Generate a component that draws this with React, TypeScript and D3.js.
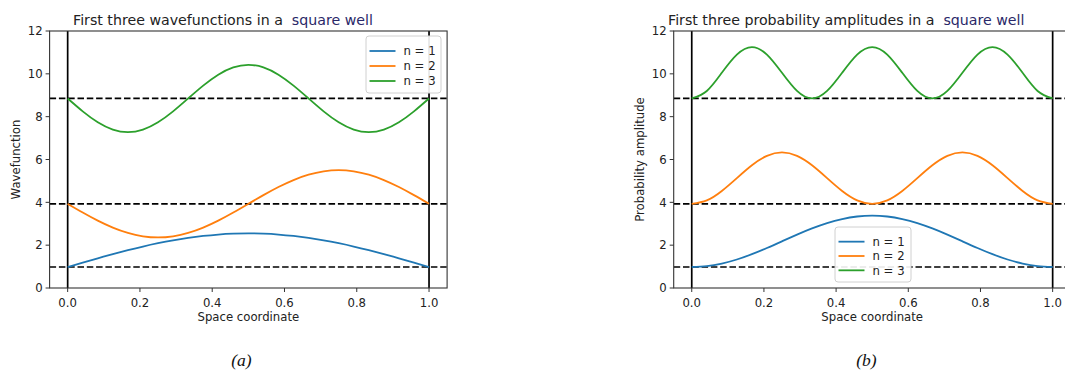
import React from "react";
import * as d3 from "d3";

// Sample positions across the well (0 … 1)
const xs = [
  0, 0.0417, 0.0833, 0.125, 0.1667, 0.2083, 0.25, 0.2917, 0.3333, 0.375, 0.4167, 0.4583, 0.5,
  0.5417, 0.5833, 0.625, 0.6667, 0.7083, 0.75, 0.7917, 0.8333, 0.875, 0.9167, 0.9583, 1,
];

// Energy levels (dashed baselines)
const levels = [0.98, 3.93, 8.85];

const seriesNames = ["n = 1", "n = 2", "n = 3"];
const colors = ["#1f77b4", "#ff7f0e", "#2ca02c"];

// Wavefunctions, offset by their energy level
const psi1 = [0.98, 1.185, 1.386, 1.581, 1.765, 1.936, 2.09, 2.226, 2.34, 2.431, 2.497, 2.536, 2.55,
  2.536, 2.497, 2.431, 2.34, 2.226, 2.09, 1.936, 1.765, 1.581, 1.386, 1.185, 0.98];
const psi2 = [3.93, 3.524, 3.145, 2.82, 2.57, 2.414, 2.36, 2.414, 2.57, 2.82, 3.145, 3.524, 3.93,
  4.336, 4.715, 5.04, 5.29, 5.446, 5.5, 5.446, 5.29, 5.04, 4.715, 4.336, 3.93];
const psi3 = [8.85, 8.249, 7.74, 7.399, 7.28, 7.399, 7.74, 8.249, 8.85, 9.451, 9.96, 10.301, 10.42,
  10.301, 9.96, 9.451, 8.85, 8.249, 7.74, 7.399, 7.28, 7.399, 7.74, 8.249, 8.85];

// Probability amplitudes, offset by their energy level
const prob1 = [0.98, 1.021, 1.141, 1.331, 1.58, 1.869, 2.18, 2.491, 2.78, 3.029, 3.219, 3.339, 3.38,
  3.339, 3.219, 3.029, 2.78, 2.491, 2.18, 1.869, 1.58, 1.331, 1.141, 1.021, 0.98];
const prob2 = [3.93, 4.091, 4.53, 5.13, 5.73, 6.169, 6.33, 6.169, 5.73, 5.13, 4.53, 4.091, 3.93,
  4.091, 4.53, 5.13, 5.73, 6.169, 6.33, 6.169, 5.73, 5.13, 4.53, 4.091, 3.93];
const prob3 = [8.85, 9.201, 10.05, 10.899, 11.25, 10.899, 10.05, 9.201, 8.85, 9.201, 10.05, 10.899, 11.25,
  10.899, 10.05, 9.201, 8.85, 9.201, 10.05, 10.899, 11.25, 10.899, 10.05, 9.201, 8.85];

const xTicks = [0, 0.2, 0.4, 0.6, 0.8, 1.0];
const yTicks = [0, 2, 4, 6, 8, 10, 12];

const FONT = "'DejaVu Sans', sans-serif";
const TICK_FS = 11.7;
const TOP = 31;
const BOTTOM = 288;

type PanelProps = {
  id: string;
  left: number;
  right: number;
  title: string;
  titleX: number;
  ylabel: string;
  ylabelX: number;
  series: number[][];
  legend: { x: number; y: number; w: number; h: number };
  caption: string;
  captionX: number;
};

function Panel(p: PanelProps) {
  const x = d3.scaleLinear().domain([-0.05, 1.05]).range([p.left, p.right]);
  const y = d3.scaleLinear().domain([0, 12]).range([BOTTOM, TOP]);
  const line = d3
    .line<number>()
    .x((_, i) => x(xs[i]))
    .y((d) => y(d))
    .curve(d3.curveNatural);
  const clipId = `clip-${p.id}`;
  const rowH = (p.legend.h - 12) / 3;

  return (
    <g>
      <defs>
        <clipPath id={clipId}>
          <rect x={p.left} y={TOP} width={p.right - p.left} height={BOTTOM - TOP} />
        </clipPath>
      </defs>
      <g clipPath={`url(#${clipId})`}>
        {levels.map((lv) => (
          <line
            key={`lv-${lv}`}
            x1={p.left}
            x2={p.right}
            y1={y(lv)}
            y2={y(lv)}
            stroke="#000"
            strokeWidth={1.7}
            strokeDasharray="6.5,2.8"
          />
        ))}
        {[0, 1].map((v) => (
          <line
            key={`wall-${v}`}
            x1={x(v)}
            x2={x(v)}
            y1={TOP}
            y2={BOTTOM}
            stroke="#000"
            strokeWidth={1.7}
          />
        ))}
        {p.series.map((s, i) => (
          <path key={`s-${i}`} d={line(s) ?? ""} fill="none" stroke={colors[i]} strokeWidth={1.8} />
        ))}
      </g>

      {/* spines */}
      <rect
        x={p.left}
        y={TOP}
        width={p.right - p.left}
        height={BOTTOM - TOP}
        fill="none"
        stroke="#333"
        strokeWidth={1.1}
      />

      {/* x axis ticks */}
      {xTicks.map((t) => (
        <g key={`xt-${t}`}>
          <line x1={x(t)} x2={x(t)} y1={BOTTOM} y2={BOTTOM + 4} stroke="#333" strokeWidth={1} />
          <text
            x={x(t)}
            y={BOTTOM + 18.5}
            textAnchor="middle"
            fontFamily={FONT}
            fontSize={TICK_FS}
            fill="#222"
          >
            {d3.format(".1f")(t)}
          </text>
        </g>
      ))}

      {/* y axis ticks */}
      {yTicks.map((t) => (
        <g key={`yt-${t}`}>
          <line x1={p.left - 4} x2={p.left} y1={y(t)} y2={y(t)} stroke="#333" strokeWidth={1} />
          <text
            x={p.left - 7}
            y={y(t)}
            dy="0.36em"
            textAnchor="end"
            fontFamily={FONT}
            fontSize={TICK_FS}
            fill="#222"
          >
            {t}
          </text>
        </g>
      ))}

      {/* legend */}
      <rect
        x={p.legend.x}
        y={p.legend.y}
        width={p.legend.w}
        height={p.legend.h}
        rx={3}
        fill="#fff"
        fillOpacity={0.9}
        stroke="#d0d0d0"
        strokeWidth={1}
      />
      {seriesNames.map((name, i) => {
        const ly = p.legend.y + 9.5 + rowH * i + rowH / 2 - 2;
        return (
          <g key={`lg-${i}`}>
            <line
              x1={p.legend.x + 3.5}
              x2={p.legend.x + 29.5}
              y1={ly}
              y2={ly}
              stroke={colors[i]}
              strokeWidth={1.8}
            />
            <text
              x={p.legend.x + 37.5}
              y={ly}
              dy="0.36em"
              fontFamily={FONT}
              fontSize={TICK_FS}
              fill="#222"
            >
              {name}
            </text>
          </g>
        );
      })}

      {/* title */}
      <text
        x={p.titleX}
        y={25}
        fontFamily={FONT}
        fontSize={14.2}
        fill="#222"
        style={{ whiteSpace: "pre" }}
      >
        {p.title}
        <tspan fill="#2a2868">{"  square well"}</tspan>
      </text>

      {/* axis labels */}
      <text
        x={(x(0) + x(1)) / 2}
        y={321}
        textAnchor="middle"
        fontFamily={FONT}
        fontSize={TICK_FS}
        fill="#222"
      >
        Space coordinate
      </text>
      <text
        transform={`translate(${p.ylabelX},${(TOP + BOTTOM) / 2}) rotate(-90)`}
        textAnchor="middle"
        fontFamily={FONT}
        fontSize={TICK_FS}
        fill="#222"
      >
        {p.ylabel}
      </text>

      {/* caption */}
      <text
        x={p.captionX}
        y={366}
        textAnchor="middle"
        fontFamily="'Liberation Serif', serif"
        fontStyle="italic"
        fontSize={17.5}
        fill="#111"
      >
        {p.caption}
      </text>
    </g>
  );
}

export default function App() {
  return (
    <svg
      width={1065}
      height={372}
      viewBox="0 0 1065 372"
      style={{ position: "fixed", left: 0, top: 0, background: "#fff" }}
    >
      <rect x={0} y={0} width={1065} height={372} fill="#fff" />
      <Panel
        id="a"
        left={49.6}
        right={447.1}
        title="First three wavefunctions in a"
        titleX={73}
        ylabel="Wavefunction"
        ylabelX={20}
        series={[psi1, psi2, psi3]}
        legend={{ x: 366, y: 36, w: 75, h: 57 }}
        caption="(a)"
        captionX={241.5}
      />
      <Panel
        id="b"
        left={673.7}
        right={1070.7}
        title="First three probability amplitudes in a"
        titleX={668}
        ylabel="Probability amplitude"
        ylabelX={644}
        series={[prob1, prob2, prob3]}
        legend={{ x: 835, y: 227, w: 76, h: 55 }}
        caption="(b)"
        captionX={866.5}
      />
    </svg>
  );
}
